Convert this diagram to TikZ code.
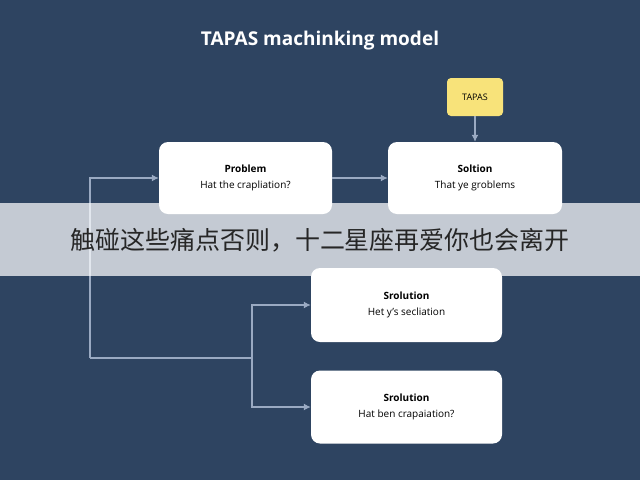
\documentclass[tikz,border=0pt]{standalone}
\usepackage{fontspec}
\setmainfont{Open Sans}
\newfontfamily\cjk{Noto Sans CJK SC}
\begin{document}
\begin{tikzpicture}[x=1pt,y=-1pt,
  bx/.style={draw=none,fill=white,rounded corners=9pt,align=center,inner sep=0pt},
  ln/.style={draw=arr,line width=1.2pt},
  ar/.style={ln,-{Latex[length=7pt,width=7pt]}}]
\usetikzlibrary{arrows.meta}
\definecolor{bg}{HTML}{2E4461}
\definecolor{arr}{HTML}{9AAAC2}
\definecolor{yl}{HTML}{F8E37A}
\fill[bg] (0,0) rectangle (640,480);
\useasboundingbox (0,0) rectangle (640,480);
\node[text=white,font=\bfseries\fontsize{19}{22}\selectfont] (title) at (320,41) {TAPAS machinking model};
\node[bx,minimum width=173pt,minimum height=72pt] (p) at (245.5,178) {\textbf{Problem}\\[4pt]Hat the crapliation?};
\node[bx,minimum width=174pt,minimum height=72pt] (s) at (475,178) {\textbf{Soltion}\\[4pt]That ye groblems};
\node[bx,minimum width=191pt,minimum height=74pt] (r1) at (406.5,305) {\textbf{Srolution}\\[4pt]Het y's secliation};
\node[bx,minimum width=191pt,minimum height=73pt] (r2) at (406.5,407) {\textbf{Srolution}\\[4pt]Hat ben crapaiation?};
\node[fill=yl,rounded corners=4pt,minimum width=56pt,minimum height=38pt,font=\small] (t) at (475,97) {TAPAS};
\draw[ar] (t) -- (s);
\draw[ar] (p) -- (s);
\coordinate (a) at (90,358);
\coordinate (b) at (252,358);
\draw[ar] (a) |- (p.west);
\draw[ln] (a) -- (b);
\draw[ar] (b) |- (r1.west);
\draw[ar] (b) |- (r2.west);
\fill[white,opacity=0.72] (0,203) rectangle (640,276);
\node[font=\cjk\fontsize{25}{28}\selectfont,text=black!85] (ban) at (320,240) {触碰这些痛点否则，十二星座再爱你也会离开};
\end{tikzpicture}
\end{document}
